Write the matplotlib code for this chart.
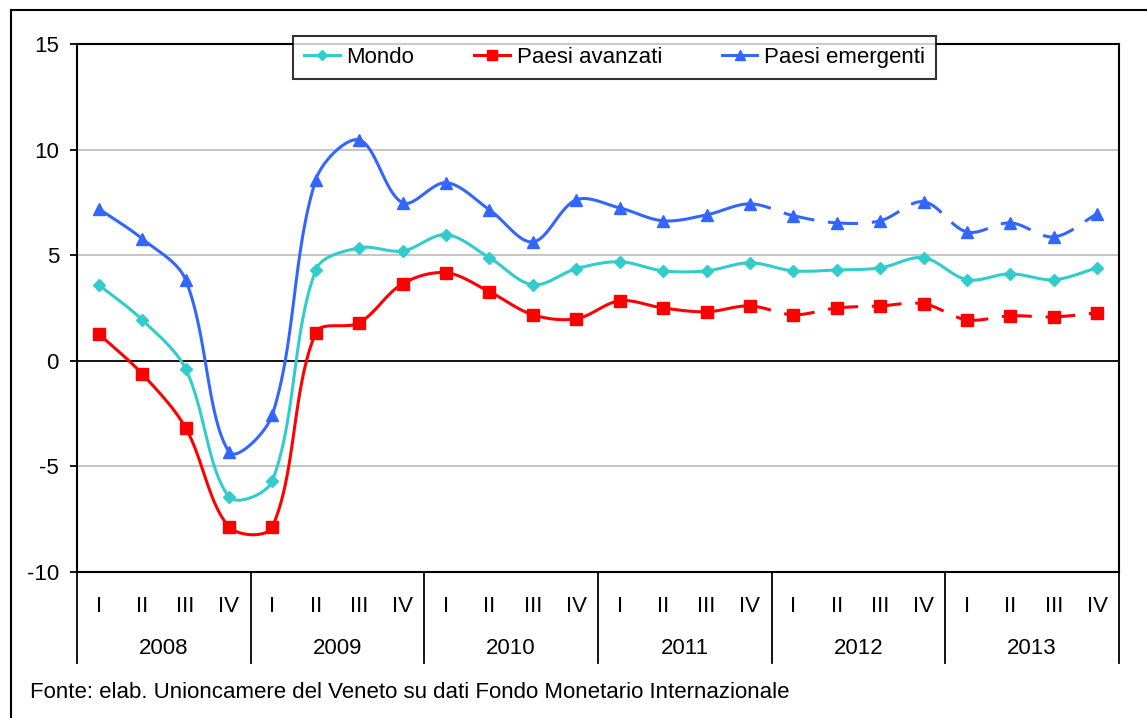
import numpy as np
import matplotlib
matplotlib.use("Agg")
import matplotlib.pyplot as plt
from matplotlib.lines import Line2D

plt.rcParams['font.family'] = ['Liberation Sans', 'DejaVu Sans']

years = ["2008", "2009", "2010", "2011", "2012", "2013"]
quarters = ["I", "II", "III", "IV"]

mondo = [3.6, 1.94, -0.38, -6.44, -5.68, 4.3, 5.35, 5.2,
         5.97, 4.88, 3.6, 4.36, 4.69, 4.26, 4.26, 4.64,
         4.26, 4.3, 4.4, 4.88, 3.84, 4.12, 3.84, 4.4]
avanzati = [1.28, -0.62, -3.17, -7.86, -7.86, 1.33, 1.8, 3.65,
            4.17, 3.27, 2.18, 1.99, 2.84, 2.5, 2.32, 2.6,
            2.18, 2.5, 2.6, 2.7, 1.94, 2.13, 2.08, 2.27]
emergenti = [7.2, 5.78, 3.84, -4.31, -2.56, 8.57, 10.46, 7.48,
             8.43, 7.15, 5.63, 7.62, 7.24, 6.63, 6.91, 7.43,
             6.87, 6.53, 6.63, 7.53, 6.1, 6.53, 5.87, 6.96]

names = ["Mondo", "Paesi avanzati", "Paesi emergenti"]
colors = ["#33CCCC", "#FF0000", "#3366FF"]
markers = ["D", "s", "^"]
msizes = [6.5, 8, 8.5]
dash_from = [None, 15, 15]  # index after which segments are dashed

W, H = 1147, 718
fig = plt.figure(figsize=(W / 100, H / 100), dpi=100)
ax = fig.add_axes([77 / W, (H - 572) / H, (1119 - 77) / W, (572 - 44) / H])

FS = 16


def ctrl(p_prev, p, p_next, toward_next):
    d1 = np.linalg.norm(p - p_prev)
    d2 = np.linalg.norm(p_next - p)
    tot = d1 + d2
    if tot == 0:
        return p
    d = p_next - p_prev
    if toward_next:
        return p + d * (d2 / tot) / 3.0
    return p - d * (d1 / tot) / 3.0


def smooth_segment(p0, p1, p2, p3, n=40):
    c1 = ctrl(p0, p1, p2, True)
    c2 = ctrl(p1, p2, p3, False)
    t = np.linspace(0, 1, n)[:, None]
    return ((1 - t) ** 3) * p1 + 3 * ((1 - t) ** 2) * t * c1 + 3 * (1 - t) * t ** 2 * c2 + t ** 3 * p2


ax.set_xlim(0, 24)
ax.set_ylim(-10, 15)
fig.canvas.draw()
xs = np.arange(24) + 0.5
series = [mondo, avanzati, emergenti]
inv = ax.transData.inverted()
for k, vals in enumerate(series):
    pts = ax.transData.transform(np.column_stack([xs, np.array(vals, float)]))
    n = len(pts)
    for i in range(n - 1):
        p0 = pts[i - 1] if i > 0 else pts[i]
        p1 = pts[i]
        p2 = pts[i + 1]
        p3 = pts[i + 2] if i + 2 < n else pts[i + 1]
        seg = inv.transform(smooth_segment(p0, p1, p2, p3))
        dashed = dash_from[k] is not None and i >= dash_from[k]
        ax.plot(seg[:, 0], seg[:, 1], color=colors[k], lw=2.2,
                linestyle=(0, (7, 4.5)) if dashed else '-',
                solid_capstyle='butt', dash_capstyle='butt', zorder=3 + k)
    ax.plot(xs, vals, linestyle='none', marker=markers[k], ms=msizes[k],
            color=colors[k], mec=colors[k], zorder=3 + k)

ax.set_xlim(0, 24)
ax.set_ylim(-10, 15)
ax.set_yticks([-10, -5, 0, 5, 10, 15])
ax.set_yticklabels(["-10", "-5", "0", "5", "10", "15"], fontsize=FS)
ax.tick_params(axis='y', length=5, width=1.3, pad=8, direction='out')
ax.set_xticks([])
for v in [-5, 5, 10]:
    ax.axhline(v, color='#C0C0C0', lw=1.3, zorder=1)
ax.axhline(0, color='black', lw=1.3, zorder=2)
for s in ax.spines.values():
    s.set_linewidth(1.5)
    s.set_color('black')

# category axis
trans = matplotlib.transforms.blended_transform_factory(ax.transData, ax.transAxes)
depth = -91 / 528
for j in range(7):
    ax.plot([j * 4, j * 4], [0, depth], transform=trans, color='black', lw=1.3,
            clip_on=False)
for j, yr in enumerate(years):
    for q, ql in enumerate(quarters):
        ax.text(j * 4 + q + 0.5, -34 / 528, ql, transform=trans, ha='center',
                va='center', fontsize=FS)
    ax.text(j * 4 + 2, -76 / 528, yr, transform=trans, ha='center', va='center',
            fontsize=FS)

# legend
handles = [Line2D([0], [0], color=colors[k], lw=2.2, marker=markers[k],
                  ms=msizes[k] * 0.85) for k in range(3)]
leg = ax.legend(handles, names, loc='center', bbox_to_anchor=(0.516, 0.975),
                ncol=3, fontsize=FS, frameon=True, fancybox=False,
                handlelength=1.6, handletextpad=0.3, columnspacing=2.7,
                borderpad=0.5, numpoints=1)
leg.get_frame().set_edgecolor('black')
leg.get_frame().set_linewidth(1.5)
leg.set_zorder(10)

# footnote
fig.text(30 / W, (H - 693) / H, "Fonte: elab. Unioncamere del Veneto su dati Fondo Monetario Internazionale",
         ha='left', va='center', fontsize=FS)

# outer frame
fig.add_artist(Line2D([11 / W, 11 / W], [0, (H - 10) / H], color='black', lw=1.5))
fig.add_artist(Line2D([11 / W, 1], [(H - 10) / H, (H - 10) / H], color='black', lw=1.5))

fig.savefig("out.png", dpi=100)
